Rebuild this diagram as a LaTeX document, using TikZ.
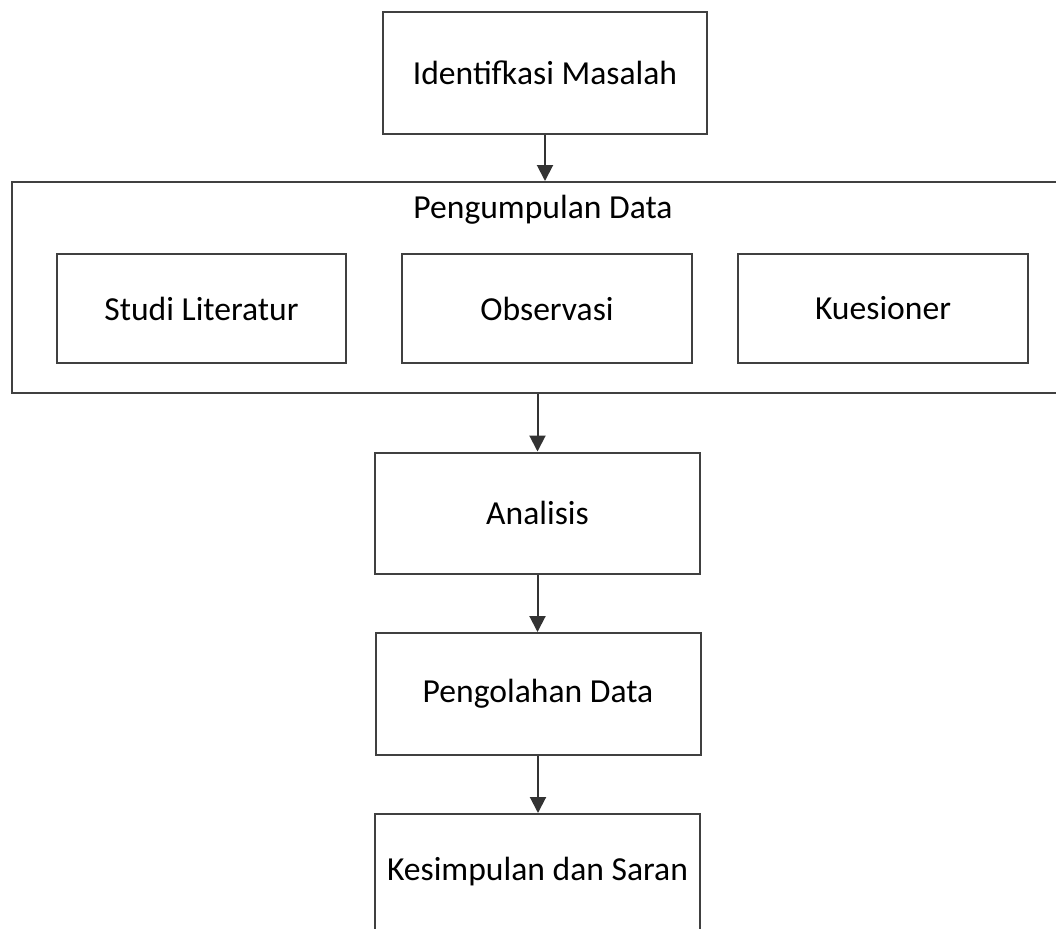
\documentclass[tikz,border=0pt]{standalone}
\usepackage{fontspec}
\setmainfont{Carlito}
\usepackage{tikz}
\usetikzlibrary{positioning, arrows.meta}

\tikzset{
  kotak/.style={draw=black!75, line width=1pt, fill=white, inner sep=0pt},
  panah/.style={draw=black!80, line width=1pt, -{Triangle[width=8pt, length=8pt]}},
}

\begin{document}
\begin{tikzpicture}[x=0.5pt, y=-0.5pt, font=\fontsize{16.8}{20}\selectfont]
    \useasboundingbox (0,0) rectangle (1056,928);
    % Kotak utama
    \node[kotak, minimum width=162pt, minimum height=61pt] (idm) at (545,73) {Identifkasi Masalah};
    \node[kotak, minimum width=529pt, minimum height=105.5pt] (pd) at (541,287.5) {};
    \node (pdj) at (543,210) {Pengumpulan Data};
    % Kotak di dalam
    \node[kotak, minimum width=144.5pt, minimum height=54.5pt] (sl) at (201.5,308.5) {Studi Literatur};
    \node[kotak, minimum width=145pt, minimum height=54.5pt] (obs) at (547,308.5) {Observasi};
    \node[kotak, minimum width=145pt, minimum height=54.5pt] (kue) at (883,308.5) {Kuesioner};
    % Tahap berikutnya
    \node[kotak, minimum width=162.5pt, minimum height=60.5pt] (ana) at (537.5,513) {Analisis};
    \node[kotak, minimum width=162.5pt, minimum height=61pt] (pol) at (538,694) {Pengolahan Data};
    \node[kotak, minimum width=162.5pt, minimum height=58pt] (kes) at (537.5,872) {Kesimpulan dan Saran};
    % Panah
    \draw[panah] (idm.south) -- (idm.south |- pd.north);
    \draw[panah] (ana.north |- pd.south) -- (ana.north);
    \draw[panah] (ana.south) -- (ana.south |- pol.north);
    \draw[panah] (pol.south) -- (pol.south |- kes.north);
\end{tikzpicture}
\end{document}
